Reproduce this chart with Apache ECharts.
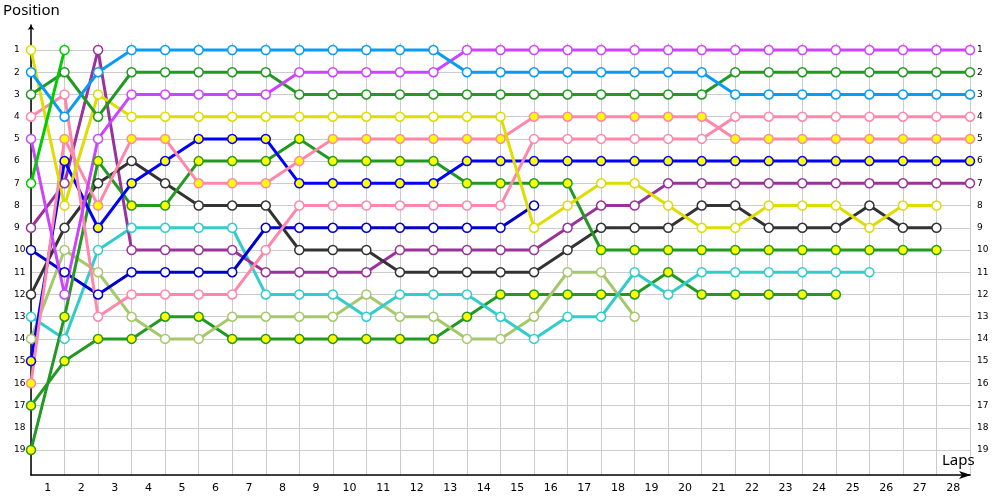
<!DOCTYPE html>
<html>
<head>
<meta charset="utf-8">
<script src="https://cdn.jsdelivr.net/npm/echarts@6/dist/echarts.min.js"></script>
<style>html,body{margin:0;padding:0;background:#fff}#c{width:1000px;height:500px}</style>
</head>
<body>
<div id="c"></div>
<script>
// x = 0 is the start (grid), x = 1..28 the laps
const lapLabels = [1,2,3,4,5,6,7,8,9,10,11,12,13,14,15,16,17,18,19,20,21,22,23,24,25,26,27,28];
const positionTicks = [1,2,3,4,5,6,7,8,9,10,11,12,13,14,15,16,17,18,19];

const lightBlue   = [2,4,2,1,1,1,1,1,1,1,1,1,1,2,2,2,2,2,2,2,2,3,3,3,3,3,3,3,3];
const violet      = [5,12,5,3,3,3,3,3,2,2,2,2,2,1,1,1,1,1,1,1,1,1,1,1,1,1,1,1,1];
const greenHollow = [3,2,4,2,2,2,2,2,3,3,3,3,3,3,3,3,3,3,3,3,3,2,2,2,2,2,2,2,2];
const yellowHollow= [1,8,3,4,4,4,4,4,4,4,4,4,4,4,4,9,8,7,7,8,9,9,8,8,8,9,8,8];
const pinkHollow  = [4,3,13,12,12,12,12,10,8,8,8,8,8,8,8,5,5,5,5,5,5,4,4,4,4,4,4,4,4];
const pinkFilled  = [16,5,8,5,5,7,7,7,6,5,5,5,5,5,5,4,4,4,4,4,4,5,5,5,5,5,5,5,5];
const blueFilled  = [15,6,9,7,6,5,5,5,7,7,7,7,7,6,6,6,6,6,6,6,6,6,6,6,6,6,6,6,6];
const navyHollow  = [10,11,12,11,11,11,11,9,9,9,9,9,9,9,9,8];
const blackHollow = [12,9,7,6,7,8,8,8,10,10,10,11,11,11,11,11,10,9,9,9,8,8,9,9,9,8,9,9];
const purpleHollow= [9,7,1,10,10,10,10,11,11,11,11,10,10,10,10,10,9,8,8,7,7,7,7,7,7,7,7,7,7];
const cyanHollow  = [13,14,10,9,9,9,9,12,12,12,13,12,12,12,13,14,13,13,11,12,11,11,11,11,11,11];
const lightGreen  = [14,10,11,13,14,14,13,13,13,13,12,13,13,14,14,13,11,11,13];
const brightGreen = [7,1];
const greenFilledA= [19,13,6,8,8,6,6,6,5,6,6,6,6,7,7,7,7,10,10,10,10,10,10,10,10,10,10,10];
const greenFilledB= [17,15,14,14,13,13,14,14,14,14,14,14,14,13,12,12,12,12,12,11,12,12,12,12,12];

const seriesDefs = [
  {name:'greenB', data:greenFilledB, color:'#229922', fill:'#ffff00'},
  {name:'lightGreen', data:lightGreen, color:'#a5c86a', fill:'#ffffff'},
  {name:'cyan', data:cyanHollow, color:'#33cccc', fill:'#ffffff'},
  {name:'purple', data:purpleHollow, color:'#993399', fill:'#ffffff'},
  {name:'black', data:blackHollow, color:'#333333', fill:'#ffffff'},
  {name:'navy', data:navyHollow, color:'#0000cc', fill:'#ffffff'},
  {name:'greenA', data:greenFilledA, color:'#229922', fill:'#ffff00'},
  {name:'blue', data:blueFilled, color:'#0000ff', fill:'#ffff00'},
  {name:'pinkF', data:pinkFilled, color:'#ff88aa', fill:'#ffff00'},
  {name:'pinkH', data:pinkHollow, color:'#ff88aa', fill:'#ffffff'},
  {name:'yellow', data:yellowHollow, color:'#dddd00', fill:'#ffffff'},
  {name:'greenH', data:greenHollow, color:'#229922', fill:'#ffffff'},
  {name:'violet', data:violet, color:'#cc44ff', fill:'#ffffff'},
  {name:'lightBlue', data:lightBlue, color:'#0a9bf5', fill:'#ffffff'},
  {name:'brightGreen', data:brightGreen, color:'#00cc00', fill:'#ffffff'}
];

const chart = echarts.init(document.getElementById('c'), null, {renderer:'canvas'});
const labelFont = {fontFamily:'DejaVu Sans', fontSize:9, color:'#000'};
const yCommon = {
  type:'value', inverse:true, min:0.685, max:20.125, gridIndex:0,
  axisLine:{show:false},
  axisTick:{show:false, customValues:positionTicks},
  splitLine:{show:false}
};
chart.setOption({
  animation:false,
  backgroundColor:'#fff',
  title:[
    {text:'Position', left:3, top:3, padding:0, textStyle:{fontFamily:'Noto Sans', fontSize:15, fontWeight:'normal', color:'#000'}},
    {text:'Laps', left:942, top:453, padding:0, textStyle:{fontFamily:'Noto Sans', fontSize:15, fontWeight:'normal', color:'#000'}}
  ],
  grid:[
    {left:31, right:30, top:43, bottom:25},
    {left:31, right:30, top:25, bottom:25}
  ],
  xAxis:[
    {type:'value', gridIndex:0, min:0, max:28, interval:1,
     axisLine:{show:true, lineStyle:{color:'#000', width:1.5}, symbol:['none','arrow'], symbolSize:[6,12], symbolOffset:[0,1]},
     axisTick:{show:false},
     splitLine:{show:true, lineStyle:{color:'#cccccc', width:1}},
     axisLabel:{customValues:lapLabels.map(l => l - 0.5), formatter:v => String(Math.round(v + 0.5)), margin:8, fontFamily:'DejaVu Sans', fontSize:11, color:'#000'}
    },
    {type:'value', gridIndex:1, min:0, max:1, show:false}
  ],
  yAxis:[
    Object.assign({}, yCommon, {position:'left',
      splitLine:{show:true, lineStyle:{color:'#cccccc', width:1}},
      axisLabel:Object.assign({customValues:positionTicks, align:'left', margin:17}, labelFont)}),
    Object.assign({}, yCommon, {position:'right',
      axisLabel:Object.assign({customValues:positionTicks, align:'left', margin:7}, labelFont)}),
    {type:'value', gridIndex:1, min:0, max:1, position:'left',
     axisLine:{show:true, lineStyle:{color:'#000', width:1.5}, symbol:['none','arrow'], symbolSize:[5,5]},
     axisTick:{show:false}, axisLabel:{show:false}, splitLine:{show:false}}
  ],
  series: seriesDefs.map(s => ({
    name:s.name, type:'line', xAxisIndex:0, yAxisIndex:0,
    data:s.data.map((v,i) => [i, v]),
    symbol:'circle', symbolSize:9, showAllSymbol:true,
    lineStyle:{color:s.color, width:3},
    itemStyle:{color:s.fill, borderColor:s.color, borderWidth:1.5},
    emphasis:{disabled:true}, silent:true
  }))
});
</script>
</body>
</html>
